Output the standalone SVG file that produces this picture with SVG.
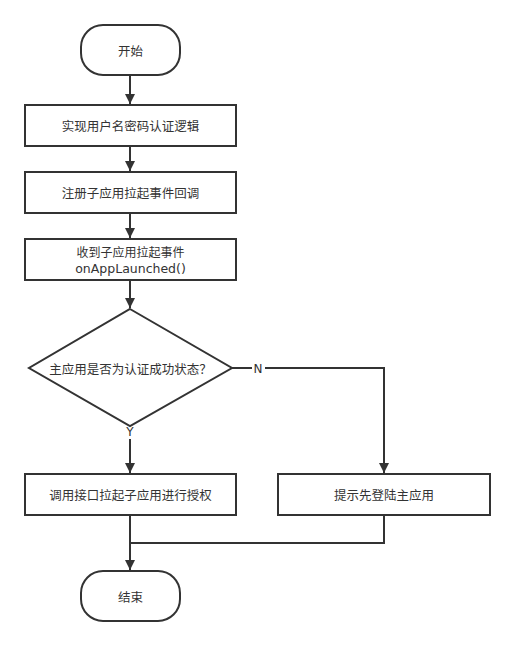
<svg xmlns="http://www.w3.org/2000/svg" width="515" height="646" viewBox="0 0 515 646">
<style>
.s{fill:#fff;stroke:#333;stroke-width:2}
.t{font-family:"Noto Sans CJK SC","DejaVu Sans",sans-serif;font-size:12.5px;fill:#333;text-anchor:middle;dominant-baseline:central}
.c{fill:none;stroke:#333;stroke-width:2}
.l{font-family:"DejaVu Sans",sans-serif;font-size:12px;fill:#333;text-anchor:middle;dominant-baseline:central}
</style>
<defs>
<marker id="a" markerUnits="userSpaceOnUse" markerWidth="10" markerHeight="12" refX="10" refY="5" orient="auto" viewBox="0 0 10 10">
<path d="M0,0 L10,5 L0,10 Z" fill="#333"/>
</marker>
</defs>
<rect width="515" height="646" fill="#fff"/>
<g id="connectors">
<path class="c" d="M130,75 V104" marker-end="url(#a)"/>
<path class="c" d="M130,146 V171" marker-end="url(#a)"/>
<path class="c" d="M130,213 V238" marker-end="url(#a)"/>
<path class="c" d="M130,280 V308" marker-end="url(#a)"/>
<path class="c" d="M130,426 V473" marker-end="url(#a)"/>
<path class="c" d="M232,368 H384 V473" marker-end="url(#a)"/>
<path class="c" d="M130,515 V570" marker-end="url(#a)"/>
<path class="c" d="M384,515 V543 H130"/>
<rect x="124" y="425" width="12" height="14" fill="#fff"/>
<text class="l" x="130" y="432">Y</text>
<rect x="252" y="361" width="13" height="14" fill="#fff"/>
<text class="l" x="258" y="369">N</text>
</g>
<g id="start">
<rect class="s" x="81" y="25" width="99" height="50" rx="22"/>
<text class="t" x="130.5" y="50">开始</text>
</g>
<g id="step1">
<rect class="s" x="25" y="105" width="211" height="41"/>
<text class="t" x="130.5" y="125.5">实现用户名密码认证逻辑</text>
</g>
<g id="step2">
<rect class="s" x="25" y="172" width="211" height="41"/>
<text class="t" x="130.5" y="192.5">注册子应用拉起事件回调</text>
</g>
<g id="step3">
<rect class="s" x="25" y="239" width="211" height="41"/>
<text class="t" x="130.5" y="251" style="font-size:12px">收到子应用拉起事件</text>
<text class="l" x="130.5" y="268" style="font-size:12.5px">onAppLaunched()</text>
</g>
<g id="decision">
<path class="s" d="M130,309 L232,368 L130,426 L29,368 Z"/>
<text class="t" x="130.5" y="368">主应用是否为认证成功状态？</text>
</g>
<g id="auth">
<rect class="s" x="25" y="474" width="211" height="41"/>
<text class="t" x="130.5" y="494.5">调用接口拉起子应用进行授权</text>
</g>
<g id="prompt">
<rect class="s" x="278" y="474" width="212" height="41"/>
<text class="t" x="384" y="494.5">提示先登陆主应用</text>
</g>
<g id="end">
<rect class="s" x="81" y="571" width="99" height="50" rx="22"/>
<text class="t" x="130.5" y="596">结束</text>
</g>
</svg>
